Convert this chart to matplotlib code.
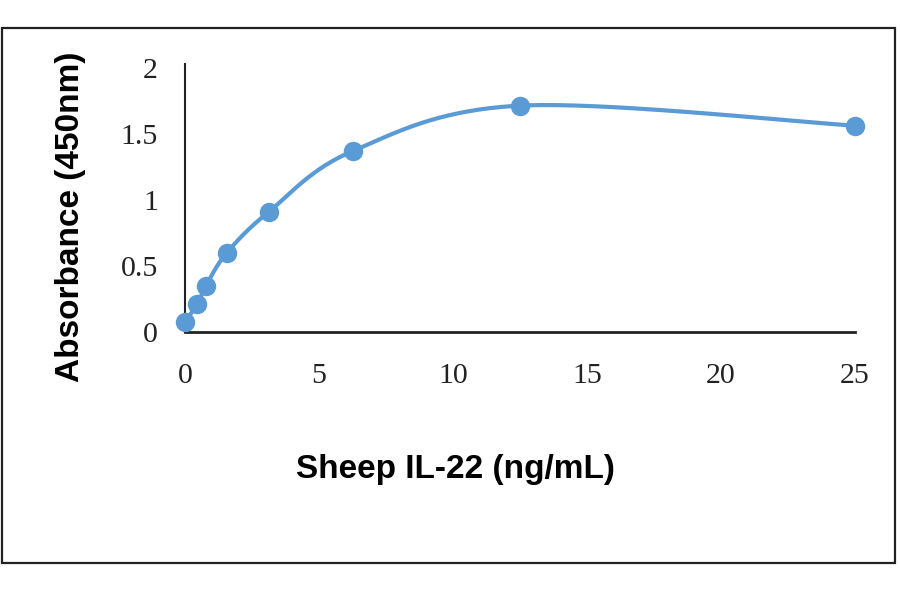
import numpy as np
import matplotlib
matplotlib.use("Agg")
import matplotlib.pyplot as plt
from matplotlib.patches import Rectangle

# Data
conc = [0, 0.45, 0.78, 1.56, 3.125, 6.25, 12.5, 25]
absorb = [0.078, 0.21, 0.35, 0.60, 0.91, 1.37, 1.715, 1.563]
xticks = [0, 5, 10, 15, 20, 25]
yticks = [0, 0.5, 1, 1.5, 2]
ytick_labels = ["0", "0.5", "1", "1.5", "2"]
xlabel = "Sheep IL-22 (ng/mL)"
ylabel = "Absorbance (450nm)"

COLOR = "#5B9BD5"


def smooth_curve(xs, ys, n=40):
    """Excel-like smoothed line: Bezier segments with 1/6 Catmull-Rom control points."""
    xs = np.asarray(xs, float)
    ys = np.asarray(ys, float)
    P = np.column_stack([xs, ys])
    m = len(P)
    out = []
    t = np.linspace(0, 1, n)[:, None]
    for i in range(m - 1):
        p0 = P[i - 1] if i > 0 else P[i]
        p1 = P[i]
        p2 = P[i + 1]
        p3 = P[i + 2] if i + 2 < m else P[i + 1]
        c1 = p1 + (p2 - p0) / 6.0
        c2 = p2 - (p3 - p1) / 6.0
        seg = ((1 - t) ** 3) * p1 + 3 * ((1 - t) ** 2) * t * c1 + 3 * (1 - t) * t ** 2 * c2 + t ** 3 * p2
        out.append(seg if i == 0 else seg[1:])
    out = np.vstack(out)
    return out[:, 0], out[:, 1]


fig = plt.figure(figsize=(9, 5.94), dpi=100)
W, H = 900, 594

# outer frame
fig.patches.append(Rectangle((1.5 / W, 1 - 563 / H), (895 - 1.5) / W, (563 - 28) / H,
                             transform=fig.transFigure, fill=False, edgecolor="#222222",
                             linewidth=1.6, zorder=0))

ax = fig.add_axes([185 / W, 1 - 332 / H, (855 - 185) / W, (332 - 68) / H])
ax.set_xlim(0, 25)
ax.set_ylim(0, 2)

sx, sy = smooth_curve(conc, absorb)
ax.plot(sx, sy, color=COLOR, linewidth=3.0, clip_on=False, zorder=3, solid_capstyle="round")
ax.plot(conc, absorb, linestyle="none", marker="o", markersize=13, color=COLOR,
        clip_on=False, zorder=4)

for s in ["top", "right"]:
    ax.spines[s].set_visible(False)
ax.spines["left"].set_color("#222222")
ax.spines["bottom"].set_color("#222222")
ax.spines["left"].set_linewidth(1.5)
ax.spines["bottom"].set_linewidth(2.0)
ax.spines["left"].set_bounds(0, 2.03)

ax.set_xticks(xticks)
ax.set_xticklabels([str(v) for v in xticks])
ax.set_yticks(yticks)
ax.set_yticklabels(ytick_labels)
ax.tick_params(axis="both", length=0, labelsize=21.5, colors="#222222")
ax.tick_params(axis="x", pad=22)
ax.tick_params(axis="y", pad=19.5)
for lab in ax.get_xticklabels() + ax.get_yticklabels():
    lab.set_family("Liberation Serif")

fig.text(455.5 / W, 1 - 478 / H, xlabel, ha="center", va="baseline",
         fontsize=24, fontweight="bold", family="Liberation Sans", color="black")
fig.text(79 / W, 1 - 216.5 / H, ylabel, ha="center", va="baseline", rotation=90,
         rotation_mode="anchor",
         fontsize=24, fontweight="bold", family="Liberation Sans", color="black")

fig.savefig("out.png", dpi=100)
